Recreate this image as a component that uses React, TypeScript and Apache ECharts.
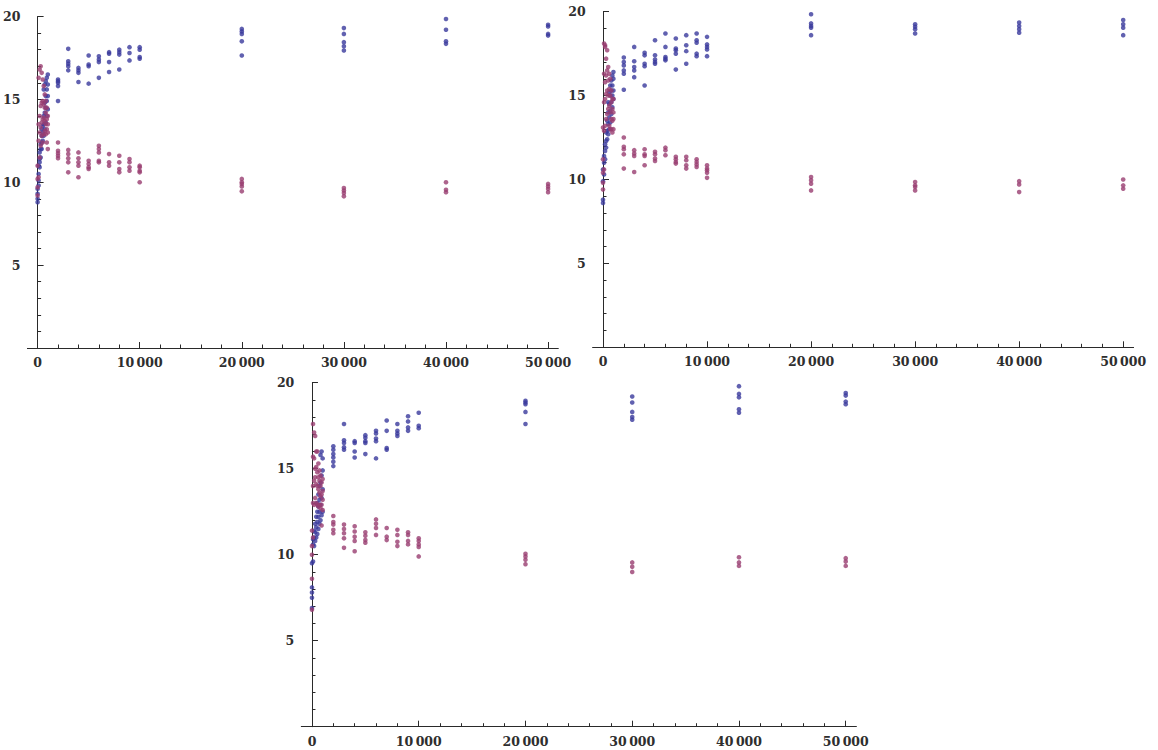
import React, { useEffect, useRef } from "react";
import * as echarts from "echarts";

// x positions shared by all three panels
const xPositions = [0, 100, 200, 300, 400, 500, 600, 700, 800, 900, 1000, 2000, 3000, 4000, 5000, 6000, 7000, 8000, 9000, 10000, 20000, 30000, 40000, 50000];

const xMajorTicks = [0, 10000, 20000, 30000, 40000, 50000];
const xMinorTicks = [2000, 4000, 6000, 8000, 12000, 14000, 16000, 18000, 22000, 24000, 26000, 28000, 32000, 34000, 36000, 38000, 42000, 44000, 46000, 48000];
const xTickLabels = ["0", "10\u2009000", "20\u2009000", "30\u2009000", "40\u2009000", "50\u2009000"];
const yMajorTicks = [5, 10, 15, 20];
const yMinorTicks = [1, 2, 3, 4, 6, 7, 8, 9, 11, 12, 13, 14, 16, 17, 18, 19];
const yTickLabels = ["5", "10", "15", "20"];

// Panel 1 (top left)
const blue1 = [
  [8.8, 9.0, 9.3, 9.6], [9.8, 10.1, 10.5, 11.0], [10.9, 11.2, 11.4, 11.8], [11.5, 12.0, 12.3],
  [12.0, 12.4, 12.8, 13.2], [12.5, 13.0, 13.4], [12.8, 13.5, 14.0, 15.6], [13.2, 14.2, 14.8, 15.9],
  [13.6, 14.5, 15.2, 16.1], [14.0, 14.9, 15.6, 16.3], [14.4, 15.2, 15.9, 16.5],
  [16.2, 16.1, 16.0, 15.8, 14.9], [18.05, 17.3, 17.15, 17.0, 16.75], [16.9, 16.75, 16.6, 16.05],
  [17.65, 17.1, 17.0, 15.95], [17.6, 17.4, 17.25, 16.3], [17.85, 17.75, 17.25, 16.65],
  [18.0, 17.85, 17.7, 16.8], [18.15, 17.8, 17.35], [18.15, 18.0, 17.55, 17.45],
  [19.25, 19.1, 18.95, 18.5, 17.65], [19.3, 18.95, 18.45, 18.2, 17.95], [19.85, 19.2, 18.5, 18.35],
  [19.5, 19.4, 18.95, 18.85],
];
const purple1 = [
  [9.2, 9.7, 10.2, 11.0], [10.3, 12.5, 13.5, 16.3], [11.5, 13.0, 14.0, 16.8], [12.2, 13.3, 14.6, 17.0],
  [12.8, 13.6, 14.8, 16.6], [12.4, 13.8, 14.9, 16.2], [12.9, 13.9, 14.7, 15.8], [13.1, 13.7, 14.5, 15.3],
  [12.9, 13.5, 14.2, 14.9], [12.4, 13.2, 13.8, 14.5], [12.0, 13.0, 13.5, 14.0],
  [12.4, 11.9, 11.75, 11.6, 11.45], [11.95, 11.7, 11.45, 11.2, 10.6], [11.8, 11.45, 11.2, 11.0, 10.3],
  [11.3, 11.1, 10.9, 10.8], [12.2, 12.0, 11.8, 11.3, 11.2], [11.7, 11.2, 11.0],
  [11.6, 11.2, 10.8, 10.6], [11.4, 11.2, 10.9, 10.7], [11.0, 10.9, 10.7, 10.6, 10.0],
  [10.2, 10.0, 9.9, 9.75, 9.45], [9.65, 9.5, 9.35, 9.15], [10.0, 9.55, 9.4], [9.9, 9.75, 9.6, 9.4],
];

// Panel 2 (top right)
const blue2 = [
  [8.6, 8.8, 9.9, 10.6], [10.3, 11.0, 11.4], [11.2, 11.7, 12.1], [11.9, 12.3, 12.8],
  [12.4, 12.9, 13.5], [12.7, 13.3, 14.0, 14.6], [13.0, 13.7, 14.5, 15.2], [13.4, 14.1, 15.0, 15.6],
  [13.9, 14.6, 15.3, 15.9], [14.3, 15.0, 15.6, 16.2], [14.8, 15.3, 16.0, 16.4],
  [17.27, 17.0, 16.8, 16.5, 16.3, 15.35], [17.9, 17.05, 16.7, 16.5, 16.1], [17.55, 17.4, 16.9, 16.75, 15.6],
  [18.3, 17.4, 17.15, 17.0, 16.9], [18.7, 17.9, 17.3, 17.2, 17.1], [18.4, 17.8, 17.7, 17.5, 16.55],
  [18.6, 18.0, 17.65, 16.9], [18.7, 18.3, 18.15, 17.5, 17.35], [18.5, 18.05, 17.9, 17.75, 17.35],
  [19.85, 19.3, 19.15, 19.05, 18.6], [19.25, 19.1, 18.95, 18.7], [19.35, 19.15, 18.95, 18.75],
  [19.5, 19.25, 19.05, 18.6],
];
const purple2 = [
  [9.4, 9.8, 10.4, 11.2, 13.1], [10.6, 12.9, 14.6, 16.3, 18.1], [13.2, 14.8, 15.8, 17.9, 18.0],
  [13.6, 15.1, 16.2, 17.2], [13.9, 15.3, 16.5, 17.7], [14.2, 15.0, 15.9, 16.7], [13.2, 14.4, 15.4, 16.3],
  [13.0, 14.0, 15.0, 16.0], [13.0, 13.6, 14.6, 15.3], [12.8, 13.5, 14.2, 14.8], [13.0, 13.6, 14.0, 14.8],
  [12.5, 11.95, 11.8, 11.5, 10.65], [11.75, 11.55, 11.4, 10.45], [11.8, 11.5, 11.4, 10.85],
  [11.65, 11.5, 11.25, 11.1], [11.9, 11.75, 11.45], [11.35, 11.2, 11.05, 10.95],
  [11.35, 11.15, 10.85, 10.65], [11.2, 11.05, 10.9, 10.75], [10.85, 10.65, 10.55, 10.4, 10.1],
  [10.15, 9.95, 9.75, 9.35], [9.85, 9.65, 9.55, 9.35], [9.9, 9.7, 9.25], [10.0, 9.65, 9.45],
];

// Panel 3 (bottom)
const blue3 = [
  [6.9, 7.5, 7.8, 8.1, 9.5], [9.6, 10.6, 10.9], [10.5, 11.0, 11.4], [10.8, 11.3, 11.8],
  [11.0, 11.6, 12.2], [11.2, 11.9, 12.5, 13.0], [11.5, 12.2, 12.8, 13.5], [11.8, 12.5, 13.2, 14.0],
  [12.0, 12.9, 14.2, 15.8], [12.3, 13.3, 14.6, 16.0], [12.5, 13.8, 14.9, 15.6],
  [16.3, 16.1, 15.85, 15.65, 15.4, 15.15], [17.6, 16.65, 16.5, 16.25, 16.1], [16.6, 16.5, 16.0, 15.65],
  [16.95, 16.8, 16.6, 16.5, 15.85], [17.2, 17.05, 16.75, 16.6, 15.6], [17.8, 17.2, 16.2, 16.1],
  [17.6, 17.2, 17.05, 16.9], [18.05, 17.75, 17.4, 17.2], [18.25, 17.5, 17.35],
  [18.95, 18.85, 18.75, 18.3, 17.6], [19.2, 18.85, 18.3, 18.0, 17.85], [19.8, 19.35, 19.15, 18.45, 18.25],
  [19.4, 19.25, 18.9, 18.75],
];
const purple3 = [
  [6.8, 8.6, 10.0, 10.5, 11.4], [11.0, 13.0, 14.0, 15.7, 17.6], [12.9, 14.3, 15.6, 17.1],
  [13.3, 14.5, 15.0, 16.9], [13.0, 14.1, 15.1, 16.0], [12.9, 14.0, 14.8, 16.0], [12.8, 13.8, 14.5, 15.3],
  [12.9, 13.6, 14.3, 14.9], [12.7, 13.4, 14.0, 14.6], [11.7, 12.9, 13.5, 14.2], [12.6, 13.2, 13.7, 14.4],
  [12.25, 11.9, 11.75, 11.45, 11.25], [11.75, 11.5, 11.25, 10.95, 10.4], [11.65, 11.35, 11.05, 10.8, 10.2],
  [11.3, 11.1, 10.85, 10.7], [12.05, 11.8, 11.55, 11.15], [11.55, 11.05, 10.85],
  [11.45, 11.15, 10.75, 10.5], [11.3, 11.15, 10.8, 10.6], [10.95, 10.8, 10.6, 10.45, 9.9],
  [10.05, 9.9, 9.7, 9.45], [9.55, 9.3, 9.0], [9.85, 9.55, 9.35], [9.8, 9.6, 9.35],
];

const BLUE = "#3a3a9c";
const PURPLE = "#993d71";
const AXIS = "#2a2a2a";
const LABEL = "#2e2e2e";
const FONT = "DejaVu Serif";

const toPoints = (vals: number[][]) =>
  xPositions.flatMap((x, i) => vals[i].map((v) => [x, v]));

export default function App() {
  const ref = useRef<HTMLDivElement>(null);
  useEffect(() => {
    if (!ref.current) return;
    const chart = echarts.init(ref.current, undefined, { renderer: "svg" });

    const grids = [
      { left: 22.7, top: 16.5, width: 535.6, height: 331.5 },
      { left: 592.6, top: 11.7, width: 541, height: 335.6 },
      { left: 301.3, top: 382.7, width: 555.1, height: 344 },
    ];
    const panels = [
      [blue1, purple1],
      [blue2, purple2],
      [blue3, purple3],
    ];

    const labelStyle = { color: LABEL, fontFamily: FONT, fontSize: 12.5, fontWeight: "bold" as const };

    const xAxes: any[] = [];
    const yAxes: any[] = [];
    const series: any[] = [];
    grids.forEach((_, gi) => {
      xAxes.push({
        type: "value", gridIndex: gi, min: -1000, max: 51000, position: "bottom",
        axisLine: { onZero: true, lineStyle: { color: AXIS, width: 1 } },
        axisTick: { inside: true, length: 6, customValues: xMajorTicks, lineStyle: { color: AXIS, width: 1 } },
        axisLabel: {
          customValues: xMajorTicks, margin: 8, ...labelStyle,
          formatter: (v: number) => xTickLabels[xMajorTicks.indexOf(v)] ?? "",
        },
        splitLine: { show: false },
      });
      xAxes.push({
        type: "value", gridIndex: gi, min: -1000, max: 51000, position: "bottom",
        axisLine: { show: false, onZero: true },
        axisTick: { inside: true, length: 3.5, customValues: xMinorTicks, lineStyle: { color: AXIS, width: 1 } },
        axisLabel: { show: false },
        splitLine: { show: false },
      });
      yAxes.push({
        type: "value", gridIndex: gi, min: 0, max: 20, position: "left",
        axisLine: { onZero: true, lineStyle: { color: AXIS, width: 1 } },
        axisTick: { inside: true, length: 6, customValues: yMajorTicks, lineStyle: { color: AXIS, width: 1 } },
        axisLabel: {
          customValues: yMajorTicks, margin: 7, ...labelStyle,
          formatter: (v: number) => yTickLabels[yMajorTicks.indexOf(v)] ?? "",
        },
        splitLine: { show: false },
      });
      yAxes.push({
        type: "value", gridIndex: gi, min: 0, max: 20, position: "left",
        axisLine: { show: false, onZero: true },
        axisTick: { inside: true, length: 3.5, customValues: yMinorTicks, lineStyle: { color: AXIS, width: 1 } },
        axisLabel: { show: false },
        splitLine: { show: false },
      });
      const [b, p] = panels[gi];
      series.push({
        type: "scatter", xAxisIndex: gi * 2, yAxisIndex: gi * 2, data: toPoints(b),
        symbol: "circle", symbolSize: 4.6, itemStyle: { color: BLUE }, z: 2,
      });
      series.push({
        type: "scatter", xAxisIndex: gi * 2, yAxisIndex: gi * 2, data: toPoints(p),
        symbol: "circle", symbolSize: 4.6, itemStyle: { color: PURPLE }, z: 3,
      });
    });

    chart.setOption({
      animation: false,
      backgroundColor: "#ffffff",
      grid: grids.map((g) => ({ ...g, containLabel: false })),
      xAxis: xAxes,
      yAxis: yAxes,
      series,
    });
    return () => chart.dispose();
  }, []);
  return (
    <div
      ref={ref}
      style={{ position: "fixed", left: 0, top: 0, width: 1158, height: 750, background: "#fff" }}
    />
  );
}
